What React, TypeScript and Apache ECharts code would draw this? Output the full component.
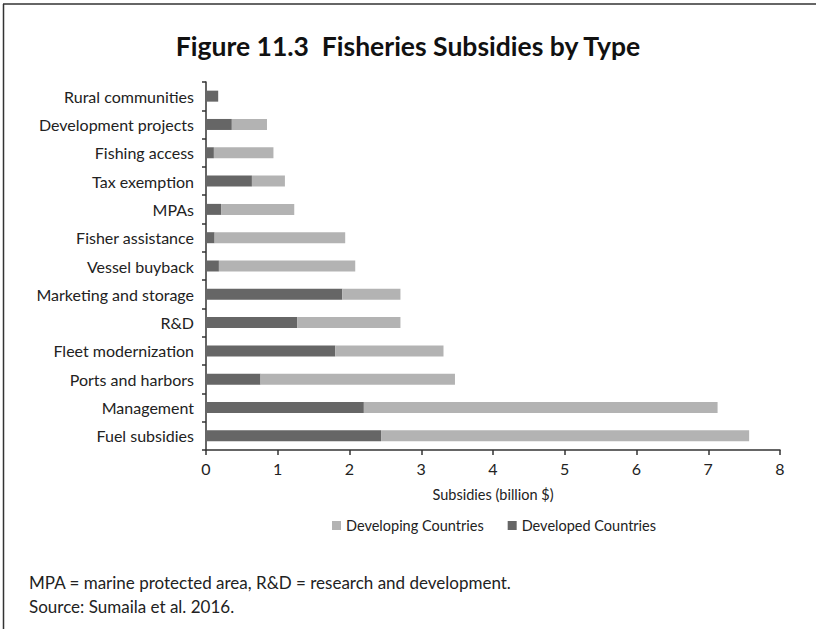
import React, { useEffect, useRef } from "react";
import * as echarts from "echarts";

const categories = [
  "Rural communities",
  "Development projects",
  "Fishing access",
  "Tax exemption",
  "MPAs",
  "Fisher assistance",
  "Vessel buyback",
  "Marketing and storage",
  "R&D",
  "Fleet modernization",
  "Ports and harbors",
  "Management",
  "Fuel subsidies",
];

// Developed countries (dark segment), billion $
const developed = [0.17, 0.36, 0.11, 0.64, 0.21, 0.12, 0.18, 1.9, 1.27, 1.8, 0.76, 2.2, 2.44];
// Developing countries (light segment), billion $
const developing = [0, 0.49, 0.83, 0.46, 1.02, 1.82, 1.9, 0.81, 1.44, 1.51, 2.71, 4.93, 5.13];

const xTicks = [0, 1, 2, 3, 4, 5, 6, 7, 8];

const FONT = "Lato";

export default function App() {
  const ref = useRef<HTMLDivElement>(null);

  useEffect(() => {
    if (!ref.current) return;
    const chart = echarts.init(ref.current, null, { renderer: "svg" });
    chart.setOption({
      animation: false,
      backgroundColor: "#ffffff",
      textStyle: { fontFamily: FONT },
      title: {
        text: "Figure 11.3  Fisheries Subsidies by Type",
        left: "center",
        top: 27,
        textStyle: { fontFamily: FONT, fontWeight: "bold", fontSize: 26.5, color: "#111" },
      },
      legend: {
        data: ["Developing Countries", "Developed Countries"],
        left: 327,
        top: 513,
        itemWidth: 9,
        itemHeight: 9,
        itemGap: 24,
        icon: "rect",
        textStyle: { fontFamily: FONT, fontSize: 14.5, color: "#222" },
      },
      grid: { left: 206, right: 36, top: 82, bottom: 179, containLabel: false },
      xAxis: {
        type: "value",
        min: xTicks[0],
        max: xTicks[xTicks.length - 1],
        interval: 1,
        name: "Subsidies (billion $)",
        nameLocation: "middle",
        nameGap: 37,
        nameTextStyle: { fontFamily: FONT, fontSize: 14.5, color: "#222" },
        axisLine: { show: true, lineStyle: { color: "#333", width: 1.5 } },
        axisTick: { show: true, length: 5, lineStyle: { color: "#333", width: 1.5 } },
        axisLabel: { fontFamily: FONT, fontSize: 16, color: "#222", margin: 10 },
        splitLine: { show: false },
      },
      yAxis: {
        type: "category",
        data: categories,
        inverse: true,
        axisLine: { show: true, lineStyle: { color: "#333", width: 1.5 } },
        axisTick: { show: true, length: 4, lineStyle: { color: "#333", width: 1.5 } },
        axisLabel: { fontFamily: FONT, fontSize: 16, color: "#222", margin: 12 },
      },
      series: [
        {
          name: "Developed Countries",
          type: "bar",
          stack: "total",
          data: developed,
          barWidth: 11,
          itemStyle: { color: "#666666" },
        },
        {
          name: "Developing Countries",
          type: "bar",
          stack: "total",
          data: developing,
          barWidth: 11,
          itemStyle: { color: "#b3b3b3" },
        },
      ],
      graphic: [
        {
          type: "line",
          shape: { x1: 3, y1: 4, x2: 816, y2: 4 },
          style: { stroke: "#333", lineWidth: 1.5 },
        },
        {
          type: "line",
          shape: { x1: 3.5, y1: 4, x2: 3.5, y2: 629 },
          style: { stroke: "#333", lineWidth: 1.5 },
        },
        {
          type: "text",
          left: 29,
          top: 574,
          style: {
            text: "MPA = marine protected area, R&D = research and development.",
            font: `17px ${FONT}`,
            fill: "#222",
          },
        },
        {
          type: "text",
          left: 29,
          top: 598,
          style: {
            text: "Source: Sumaila et al. 2016.",
            font: `17px ${FONT}`,
            fill: "#222",
          },
        },
      ],
    });
    return () => chart.dispose();
  }, []);

  return (
    <div
      ref={ref}
      style={{ position: "fixed", left: 0, top: 0, width: 816, height: 629 }}
    />
  );
}
